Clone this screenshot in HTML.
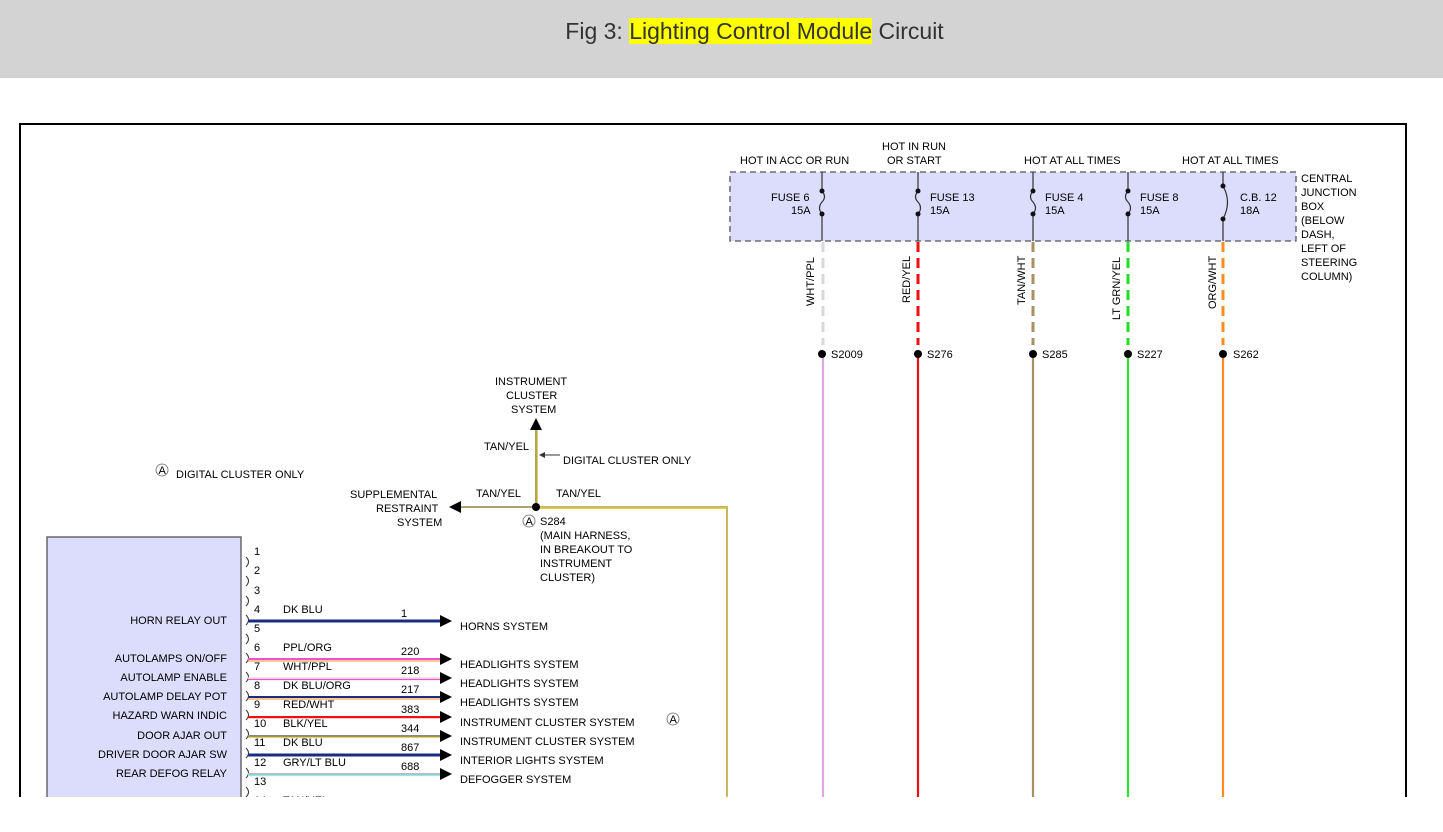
<!DOCTYPE html>
<html><head><meta charset="utf-8"><style>
html,body{margin:0;padding:0;background:#fff;width:1443px;height:832px;overflow:hidden}
.hdr{position:absolute;left:0;top:0;width:1443px;height:78px;background:#d3d3d3}
.ttl{position:absolute;left:0;top:18px;width:1509px;text-align:center;font:23px "Liberation Sans",sans-serif;color:#333}
.ttl span{background:#ffff00}
svg{position:absolute;left:0;top:0}
text{font-family:"Liberation Sans",sans-serif;font-size:11px;fill:#000}
</style></head><body>
<div class="hdr"></div>
<div class="ttl">Fig 3: <span>Lighting Control Module</span> Circuit</div>
<svg width="1443" height="832" viewBox="0 0 1443 832">
<defs><clipPath id="c"><rect x="0" y="0" width="1443" height="797"/></clipPath></defs>
<g clip-path="url(#c)">
<path d="M20,830 V124 H1406 V830" fill="none" stroke="#000" stroke-width="2"/>
<rect x="730" y="172" width="566" height="69" fill="#dcdcfc" stroke="#555" stroke-width="1.3" stroke-dasharray="6,4"/>
<text x="740" y="164">HOT IN ACC OR RUN</text>
<text x="882" y="150">HOT IN RUN</text><text x="887" y="164">OR START</text>
<text x="1024" y="164">HOT AT ALL TIMES</text>
<text x="1182" y="164">HOT AT ALL TIMES</text>
<g font-size="11">
<text x="1301" y="182">CENTRAL</text><text x="1301" y="196">JUNCTION</text><text x="1301" y="210">BOX</text><text x="1301" y="224">(BELOW</text><text x="1301" y="238">DASH,</text><text x="1301" y="252">LEFT OF</text><text x="1301" y="266">STEERING</text><text x="1301" y="280">COLUMN)</text>
</g>
<g stroke="#333" stroke-width="1.2" fill="none">
<path d="M822,172 V191 M822,214 V241 M918,172 V191 M918,214 V241 M1033,172 V191 M1033,214 V241 M1128,172 V191 M1128,214 V241 M1223,172 V186 M1223,219 V241"/>
<path d="M822,191 q5,6 0,11 q-5,6 0,12"/><path d="M918,191 q-5,6 0,11 q5,6 0,12"/><path d="M1033,191 q-5,6 0,11 q5,6 0,12"/><path d="M1128,191 q-5,6 0,11 q5,6 0,12"/><path d="M1223,186 q9,16 0,33"/>
</g>
<g fill="#111"><circle cx="822" cy="191" r="2.5"/><circle cx="822" cy="214" r="2.5"/><circle cx="918" cy="191" r="2.5"/><circle cx="918" cy="214" r="2.5"/><circle cx="1033" cy="191" r="2.5"/><circle cx="1033" cy="214" r="2.5"/><circle cx="1128" cy="191" r="2.5"/><circle cx="1128" cy="214" r="2.5"/><circle cx="1223" cy="186" r="2.5"/><circle cx="1223" cy="219" r="2.5"/></g>
<text x="771" y="201">FUSE 6</text><text x="791" y="214">15A</text>
<text x="930" y="201">FUSE 13</text><text x="930" y="214">15A</text>
<text x="1045" y="201">FUSE 4</text><text x="1045" y="214">15A</text>
<text x="1140" y="201">FUSE 8</text><text x="1140" y="214">15A</text>
<text x="1240" y="201">C.B. 12</text><text x="1240" y="214">18A</text>
<g stroke-width="3" stroke-dasharray="10,6">
<path d="M823,242 V345" stroke="#d8d8d8"/><path d="M918,242 V345" stroke="#f01010"/><path d="M1033,242 V345" stroke="#a89060"/><path d="M1128,242 V345" stroke="#20e020"/><path d="M1223,242 V345" stroke="#ff8c20"/>
</g>
<g font-size="10.5">
<text transform="translate(814,306) rotate(-90)">WHT/PPL</text>
<text transform="translate(910,303) rotate(-90)">RED/YEL</text>
<text transform="translate(1025,305) rotate(-90)">TAN/WHT</text>
<text transform="translate(1120,320) rotate(-90)">LT GRN/YEL</text>
<text transform="translate(1216,309) rotate(-90)">ORG/WHT</text>
</g>
<path d="M823,354 V800" stroke="#e0a8e0" stroke-width="2.2"/>
<path d="M918,354 V800" stroke="#e81010" stroke-width="2.2"/>
<path d="M1033,354 V800" stroke="#a89060" stroke-width="2.2"/>
<path d="M1128,354 V800" stroke="#30e030" stroke-width="2.2"/>
<path d="M1223,354 V800" stroke="#ff8c20" stroke-width="2.2"/>
<g fill="#000"><circle cx="822" cy="354" r="4"/><circle cx="918" cy="354" r="4"/><circle cx="1033" cy="354" r="4"/><circle cx="1128" cy="354" r="4"/><circle cx="1223" cy="354" r="4"/></g>
<text x="831" y="358">S2009</text><text x="927" y="358">S276</text><text x="1042" y="358">S285</text><text x="1137" y="358">S227</text><text x="1233" y="358">S262</text>
<g stroke-width="2" fill="none">
<path d="M536,505 V430" stroke="#b0a070"/><path d="M537.5,505 V430" stroke="#e8d840" stroke-width="1"/>
<path d="M536,507 H460" stroke="#b0a070"/>
<path d="M536,507 H727 V800" stroke="#c8b860"/><path d="M536,508.5 H726" stroke="#e8d840" stroke-width="1"/>
</g>
<polygon points="536,418 530,430 542,430" fill="#000"/>
<polygon points="449,507 461,501 461,513" fill="#000"/>
<path d="M541,455 H560" stroke="#333" stroke-width="1"/><polygon points="539,455 545,452 545,458" fill="#333"/>
<circle cx="536" cy="507" r="4" fill="#000"/>
<text x="495" y="385">INSTRUMENT</text><text x="506" y="399">CLUSTER</text><text x="511" y="413">SYSTEM</text>
<text x="484" y="450">TAN/YEL</text><text x="563" y="464">DIGITAL CLUSTER ONLY</text>
<text x="476" y="497">TAN/YEL</text><text x="556" y="497">TAN/YEL</text>
<text x="350" y="498">SUPPLEMENTAL</text><text x="376" y="512">RESTRAINT</text><text x="397" y="526">SYSTEM</text>
<circle cx="529" cy="521" r="6" fill="none" stroke="#666" stroke-width="0.8"/><text x="525.5" y="525" font-size="9">A</text>
<text x="540" y="525">S284</text><text x="540" y="539">(MAIN HARNESS,</text><text x="540" y="553">IN BREAKOUT TO</text><text x="540" y="567">INSTRUMENT</text><text x="540" y="581">CLUSTER)</text>
<circle cx="162" cy="470" r="6" fill="none" stroke="#666" stroke-width="0.8"/><text x="158.5" y="474" font-size="9">A</text>
<text x="176" y="478">DIGITAL CLUSTER ONLY</text>
<circle cx="673" cy="719" r="6" fill="none" stroke="#666" stroke-width="0.8"/><text x="669.5" y="723" font-size="9">A</text>
<rect x="47" y="537" width="194" height="300" fill="#dcdcfc" stroke="#555" stroke-width="1.3"/>
<g text-anchor="end">
<text x="227" y="624">HORN RELAY OUT</text><text x="227" y="662">AUTOLAMPS ON/OFF</text><text x="227" y="681">AUTOLAMP ENABLE</text><text x="227" y="700">AUTOLAMP DELAY POT</text><text x="227" y="719">HAZARD WARN INDIC</text><text x="227" y="739">DOOR AJAR OUT</text><text x="227" y="758">DRIVER DOOR AJAR SW</text><text x="227" y="777">REAR DEFOG RELAY</text>
</g>
<g font-size="10.5">
<text x="254" y="555">1</text><text x="254" y="574">2</text><text x="254" y="594">3</text><text x="254" y="613">4</text><text x="254" y="632">5</text><text x="254" y="651">6</text><text x="254" y="670">7</text><text x="254" y="689">8</text><text x="254" y="708">9</text><text x="254" y="727">10</text><text x="254" y="746">11</text><text x="254" y="766">12</text><text x="254" y="785">13</text><text x="254" y="804">14</text>
</g>
<g stroke="#333" fill="none" stroke-width="1"><path d="M246,557 q5,5 0,10 M246,576 q5,5 0,10 M246,596 q5,5 0,10 M246,615 q5,5 0,10 M246,634 q5,5 0,10 M246,653 q5,5 0,10 M246,672 q5,5 0,10 M246,691 q5,5 0,10 M246,710 q5,5 0,10 M246,729 q5,5 0,10 M246,748 q5,5 0,10 M246,768 q5,5 0,10 M246,787 q5,5 0,10"/></g>
<g>
<path d="M248,621 H442" stroke="#1a2c80" stroke-width="3"/>
<path d="M248,659 H442" stroke="#f050d0" stroke-width="2"/><path d="M248,661 H442" stroke="#ff8c20" stroke-width="1"/>
<path d="M248,678 H442" stroke="#ddd" stroke-width="1.5"/><path d="M248,679.5 H442" stroke="#f050d0" stroke-width="1.2"/>
<path d="M248,697 H442" stroke="#1a2c80" stroke-width="2"/><path d="M248,699 H442" stroke="#ff8c20" stroke-width="1"/>
<path d="M248,717 H442" stroke="#f01010" stroke-width="2"/><path d="M248,718.5 H442" stroke="#fbb" stroke-width="0.8"/>
<path d="M248,736 H442" stroke="#888" stroke-width="2"/><path d="M248,737.5 H442" stroke="#e8d840" stroke-width="1.2"/>
<path d="M248,755 H442" stroke="#1a2c80" stroke-width="3"/>
<path d="M248,774 H442" stroke="#bbb" stroke-width="2"/><path d="M248,775.5 H442" stroke="#80f0f0" stroke-width="1.2"/>
</g>
<g fill="#000">
<polygon points="452,621 440,615 440,627"/><polygon points="452,659 440,653 440,665"/><polygon points="452,678 440,672 440,684"/><polygon points="452,697 440,691 440,703"/><polygon points="452,717 440,711 440,723"/><polygon points="452,736 440,730 440,742"/><polygon points="452,755 440,749 440,761"/><polygon points="452,774 440,768 440,780"/>
</g>
<g font-size="11">
<text x="283" y="613">DK BLU</text><text x="283" y="651">PPL/ORG</text><text x="283" y="670">WHT/PPL</text><text x="283" y="689">DK BLU/ORG</text><text x="283" y="708">RED/WHT</text><text x="283" y="727">BLK/YEL</text><text x="283" y="746">DK BLU</text><text x="283" y="766">GRY/LT BLU</text><text x="283" y="804">TAN/YEL</text>
<text x="401" y="617">1</text><text x="401" y="655">220</text><text x="401" y="674">218</text><text x="401" y="693">217</text><text x="401" y="713">383</text><text x="401" y="732">344</text><text x="401" y="751">867</text><text x="401" y="770">688</text>
<text x="460" y="630">HORNS SYSTEM</text><text x="460" y="668">HEADLIGHTS SYSTEM</text><text x="460" y="687">HEADLIGHTS SYSTEM</text><text x="460" y="706">HEADLIGHTS SYSTEM</text><text x="460" y="726">INSTRUMENT CLUSTER SYSTEM</text><text x="460" y="745">INSTRUMENT CLUSTER SYSTEM</text><text x="460" y="764">INTERIOR LIGHTS SYSTEM</text><text x="460" y="783">DEFOGGER SYSTEM</text>
</g>
</g>
</svg>
</body></html>
